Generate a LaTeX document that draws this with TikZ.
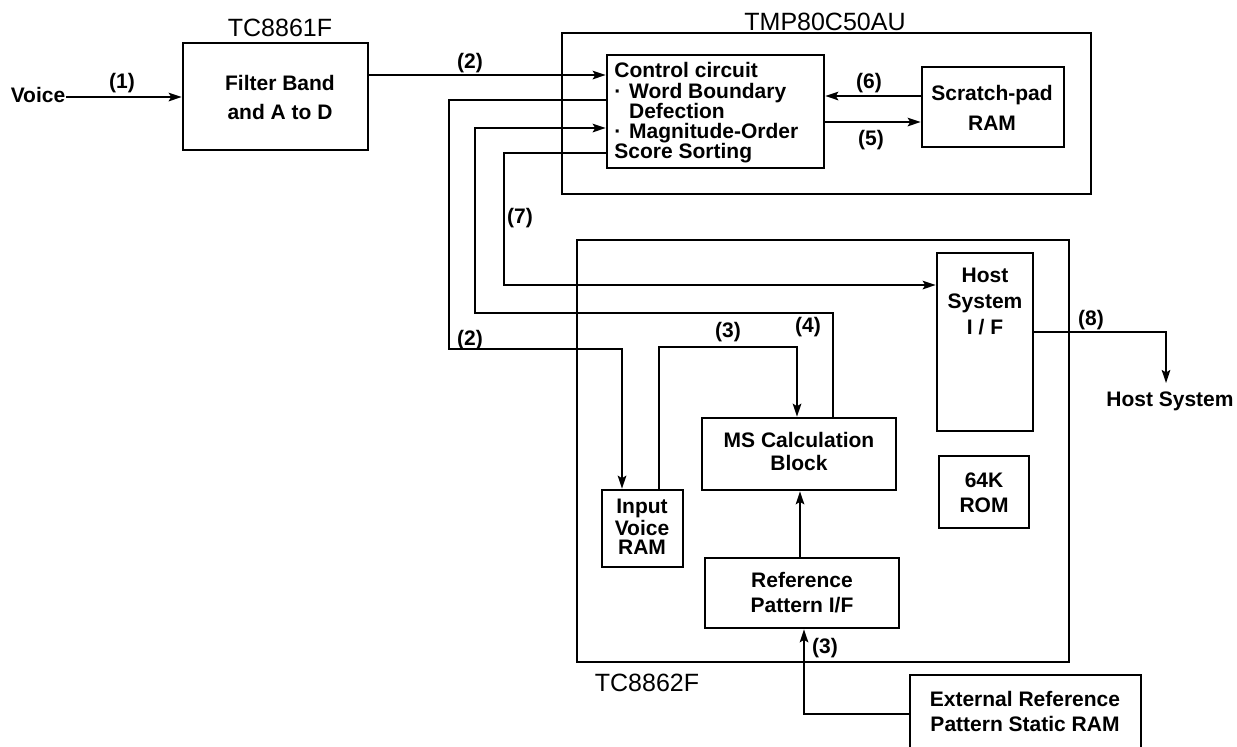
\documentclass[tikz,border=0pt]{standalone}
\usepackage{fontspec}
\setmainfont{Liberation Sans}
\usetikzlibrary{arrows.meta,fit}
\tikzset{
  frame/.style={draw, line width=1.2pt, inner sep=0pt},
  box/.style={draw, line width=1.2pt, inner sep=0pt},
  ls/.style={font=\bfseries\fontsize{10.5}{#1}\selectfont},
  txt/.style={inner sep=0pt, align=center, font=\bfseries\fontsize{10.5}{12.5}\selectfont},
  lbl/.style={inner sep=0pt, font=\bfseries\fontsize{10.5}{12}\selectfont},
  chip/.style={inner sep=0pt, font=\fontsize{12.5}{14}\selectfont},
  wire/.style={line width=1.2pt},
  arr/.style={wire, -{Stealth[length=6.5pt,width=4.2pt,inset=1.2pt]}},
}
\begin{document}
\begin{tikzpicture}[x=0.5pt,y=-0.5pt]
\clip (0,0) rectangle (1237,746);
\fill[white] (0,0) rectangle (1237,746);

% boxes
\node[txt] (voice) at (38,95) {Voice};
\node[box, fit={(183,43) (368,150)}] (filter) {};
\node[txt, ls=14.5] (filtertxt) at (280,97.5) {Filter Band\\and A to D};
\node[chip] (tc61) at (280,28) {TC8861F};

\node[frame, fit={(562,33) (1091,194)}] (tmp) {};
\node[chip] (tmplbl) at (825,22) {TMP80C50AU};
\node[box, fit={(607,55) (824,168)}] (ctrl) {};
\node[txt, align=left, anchor=west, ls=10.1] (ctrltxt) at (614,113)
  {Control circuit\\\makebox[0.7em][l]{·}Word Boundary\\\hspace*{0.7em}Defection\\\makebox[0.7em][l]{·}Magnitude-Order\\Score Sorting};
\node[box, fit={(922,67) (1064,147)}] (scratch) {};
\node[txt, ls=15] (scratchtxt) at (992,108) {Scratch-pad\\RAM};

\node[frame, fit={(577,240) (1069,662)}] (tc62) {};
\node[chip] (tc62lbl) at (647,683) {TC8862F};
\node[box, fit={(937,253) (1033,431)}] (hostif) {};
\node[txt, ls=13] (hosttxt) at (985,301) {Host\\System\\I / F};
\node[box, fit={(939,456) (1029,528)}] (rom) {};
\node[txt, ls=12.5] (romtxt) at (984,492.5) {64K\\ROM};
\node[box, fit={(702,418) (896,490)}] (ms) {};
\node[txt, ls=11.5] (mstxt) at (799,451.5) {MS Calculation\\Block};
\node[box, fit={(602,490) (683,567)}] (ivram) {};
\node[txt, ls=9.7] (ivramtxt) at (642,527) {Input\\Voice\\RAM};
\node[box, fit={(705,558) (899,628)}] (refif) {};
\node[txt, ls=12.5] (refiftxt) at (802,592.5) {Reference\\Pattern I/F};
\node[box, fit={(910,675) (1141,752)}] (ext) {};
\node[txt, ls=12.5] (exttxt) at (1025,711) {External Reference\\Pattern Static RAM};
\node[txt, inner ysep=4pt] (hostsys) at (1170,401) {Host System};

% connectors
\draw[arr] (voice.east |- 0,97) -- (filter.west |- 0,97);
\node[lbl] (l1) at (122,83) {(1)};

\draw[arr] (filter.east |- 0,75) -- (ctrl.west |- 0,75);
\node[lbl] (l2a) at (470,63) {(2)};

\draw[arr] (scratch.west |- 0,96) -- (ctrl.east |- 0,96);
\node[lbl] (l6) at (869,83) {(6)};
\draw[arr] (ctrl.east |- 0,122) -- (scratch.west |- 0,122);
\node[lbl] (l5) at (871,140) {(5)};

\draw[arr] (ctrl.west |- 0,100) -- (449,100) -- (449,349) -- (622,349) -- (622,0 |- ivram.north);
\node[lbl] (l2b) at (470,340) {(2)};

\draw[arr] (833,0 |- ms.north) -- (833,313) -- (475,313) -- (475,128) -- (ctrl.west |- 0,128);
\node[lbl] (l4) at (808,327) {(4)};

\draw[arr] (ctrl.west |- 0,153) -- (504,153) -- (504,285) -- (hostif.west |- 0,285);
\node[lbl] (l7) at (520,218) {(7)};

\draw[arr] (659,0 |- ivram.north) -- (659,347) -- (797,347) -- (797,0 |- ms.north);
\node[lbl] (l3a) at (728,332) {(3)};

\draw[arr] (800,0 |- refif.north) -- (800,0 |- ms.south);

\draw[arr] (ext.west |- 0,714) -- (804,714) -- (804,0 |- refif.south);
\node[lbl] (l3b) at (825,648) {(3)};

\draw[arr] (hostif.east |- 0,332) -- (1166,332) -- (1166,0 |- hostsys.north);
\node[lbl] (l8) at (1091,320) {(8)};
\end{tikzpicture}
\end{document}
